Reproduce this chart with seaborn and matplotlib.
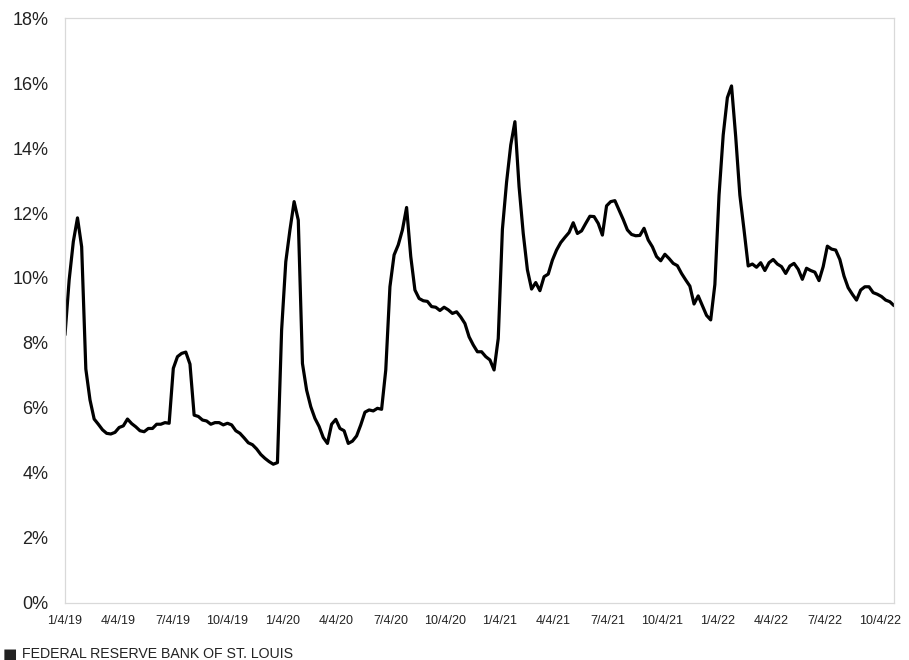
import matplotlib
matplotlib.use("Agg")
import matplotlib.pyplot as plt
import matplotlib.dates as mdates
from matplotlib.ticker import FuncFormatter
import pandas as pd
import seaborn as sns

# Weekly series, first week ending 1/4/19
start_date = "2019-01-04"
n_weeks = 200

rate_pct = [
    8.25, 9.94, 11.12, 11.85, 10.96, 7.2, 6.25, 5.66, 5.5, 5.33,
    5.22, 5.2, 5.25, 5.4, 5.45, 5.66, 5.52, 5.42, 5.3, 5.27,
    5.37, 5.37, 5.5, 5.5, 5.55, 5.53, 7.22, 7.58, 7.68, 7.72,
    7.35, 5.78, 5.74, 5.63, 5.6, 5.5, 5.55, 5.55, 5.48, 5.53,
    5.48, 5.3, 5.22, 5.08, 4.93, 4.87, 4.74, 4.57, 4.45, 4.35,
    4.27, 4.32, 8.4, 10.5, 11.48, 12.35, 11.78, 7.37, 6.55, 6.04,
    5.68, 5.43, 5.09, 4.91, 5.5, 5.65, 5.37, 5.3, 4.91, 4.98,
    5.14, 5.48, 5.87, 5.94, 5.91, 5.99, 5.96, 7.17, 9.73, 10.71,
    11.02, 11.48, 12.17, 10.66, 9.63, 9.37, 9.3, 9.28, 9.12, 9.1,
    9.0, 9.1, 9.02, 8.91, 8.96, 8.8, 8.6, 8.19, 7.94, 7.73,
    7.73, 7.58, 7.48, 7.17, 8.14, 11.5, 12.95, 14.09, 14.81, 12.81,
    11.37, 10.25, 9.66, 9.86, 9.61, 10.04, 10.12, 10.55, 10.86, 11.09,
    11.25, 11.4, 11.7, 11.37, 11.45, 11.68, 11.9, 11.89, 11.68, 11.32,
    12.22, 12.35, 12.38, 12.09, 11.8, 11.48, 11.34, 11.3, 11.31, 11.53,
    11.17, 10.96, 10.66, 10.53, 10.73, 10.6, 10.45, 10.38, 10.14, 9.94,
    9.75, 9.2, 9.45, 9.15, 8.85, 8.71, 9.8, 12.55, 14.4, 15.55,
    15.91, 14.35, 12.55, 11.48, 10.37, 10.43, 10.33, 10.47, 10.23, 10.47,
    10.57, 10.43, 10.35, 10.14, 10.37, 10.45, 10.27, 9.96, 10.3, 10.23,
    10.18, 9.92, 10.35, 10.98, 10.89, 10.86, 10.57, 10.06, 9.7, 9.5,
    9.32, 9.63, 9.73, 9.73, 9.55, 9.5, 9.43, 9.32, 9.27, 9.15,
]

y_ticks = [0, 2, 4, 6, 8, 10, 12, 14, 16, 18]
footer = "FEDERAL RESERVE BANK OF ST. LOUIS"

df = pd.DataFrame({
    "week": pd.date_range(start_date, periods=n_weeks, freq="7D"),
    "rate": rate_pct,
})

sns.set_style("white")
plt.rcParams["font.family"] = ["Liberation Sans", "DejaVu Sans"]

fig = plt.figure(figsize=(9.09, 6.60), dpi=100)
ax = fig.add_axes([0.0715, 0.0864, 0.912, 0.8863])

sns.lineplot(data=df, x="week", y="rate", ax=ax, color="black", linewidth=2.3)

ax.set_xlim(df["week"].iloc[0], df["week"].iloc[-1])
ax.set_ylim(0, 18)
ax.set_yticks(y_ticks)
ax.yaxis.set_major_formatter(FuncFormatter(lambda v, p: f"{v:.0f}%"))
ax.tick_params(axis="y", length=0, pad=12, labelsize=13, labelcolor="#222222")


def date_label(v, p):
    d = mdates.num2date(v)
    return f"{d.month}/{d.day}/{d:%y}"


# monthly tick marks, quarterly labels
ax.xaxis.set_major_locator(mdates.MonthLocator(bymonth=[1, 4, 7, 10], bymonthday=4))
ax.xaxis.set_minor_locator(mdates.MonthLocator(bymonthday=4))
ax.xaxis.set_major_formatter(FuncFormatter(date_label))
ax.tick_params(axis="x", which="both", direction="out", length=5, width=0.8,
               color="#d0d0d0", pad=4, labelsize=9, labelcolor="#222222")

ax.set_xlabel("")
ax.set_ylabel("")
for s in ax.spines.values():
    s.set_color("#d9d9d9")
    s.set_linewidth(0.9)

fig.text(0.003, 0.009, "\u25a0", fontsize=11, color="#222222", ha="left", va="center",
         family=["DejaVu Sans"])
fig.text(0.024, 0.009, footer, fontsize=10.2, color="#222222", ha="left", va="center")

fig.savefig("out.png", dpi=100)
